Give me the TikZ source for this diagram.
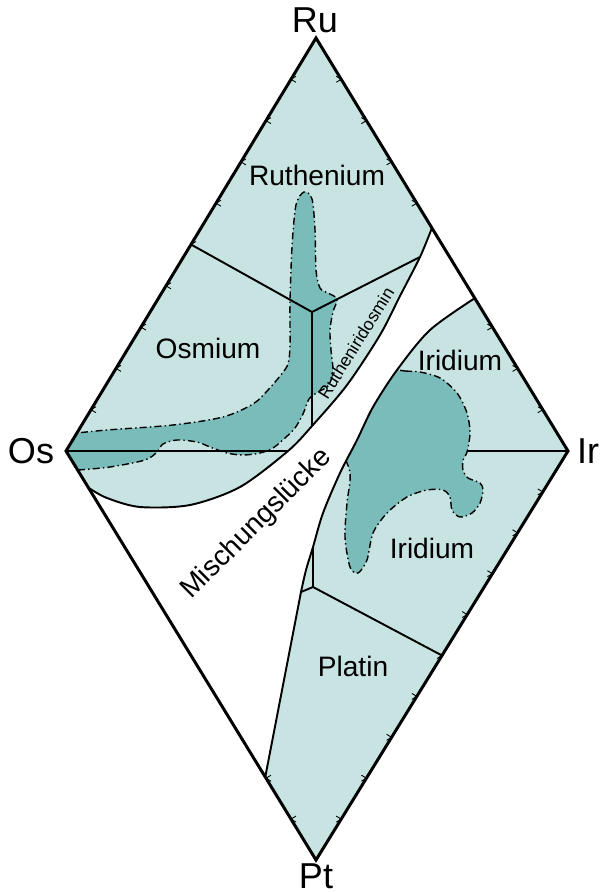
\documentclass[tikz,border=0pt]{standalone}
\usepackage{fontspec}
\setmainfont{Liberation Sans}
\usetikzlibrary{calc}
\definecolor{PhaseLight}{RGB}{200,228,226}
\definecolor{PhaseDark}{RGB}{122,188,186}

\begin{document}
\begin{tikzpicture}[x=0.02cm,y=-0.02cm,
      edge/.style={line width=1.7pt,line join=miter},
      bound/.style={line width=1.1pt},
      blob/.style={fill=PhaseDark,draw=black,line width=0.8pt,dash pattern=on 4pt off 1.8pt on 0.8pt off 1.8pt},
      tickmark/.style={line width=0.5pt},
      field/.style={font=\fontsize{16}{19}\selectfont,inner sep=0pt},
      corner/.style={font=\fontsize{20.5}{24}\selectfont,inner sep=0pt}]
    \useasboundingbox[fill=white] (0,0) rectangle (606,892);
    \coordinate (Ru) at (316,38);
    \coordinate (Os) at (66,451);
    \coordinate (Ir) at (568,451);
    \coordinate (Pt) at (316,860);
    \coordinate (gapTop) at ($(Ru)!0.46!(Ir)$);
    \coordinate (gapLeft) at ($(Os)!0.09!(Pt)$);
    \coordinate (irTop) at ($(Ru)!0.63!(Ir)$);
    \coordinate (ptLeft) at ($(Os)!0.797!(Pt)$);
    \coordinate (osruMid) at ($(Os)!0.5!(Ru)$);
    \coordinate (irptMid) at ($(Ir)!0.5!(Pt)$);
    \coordinate (triUp) at (312,312);
    \coordinate (triDown) at (313,587);
    \coordinate (arcA) at (420,257);
    \coordinate (arcB) at (312,426);
    \coordinate (arcC) at (288,451);
    \coordinate (arcD) at (313,547);
    \coordinate (arcE) at (301,592);
    \coordinate (irLine) at (467,451);

    \fill[PhaseLight] (Os) -- (Ru) -- (gapTop) -- plot[smooth] coordinates {(gapTop) (arcA) (400,296) (380,335) (347,385) (arcB) (arcC) (240,487) (190,505) (140,507) (107,498) (gapLeft)} -- cycle;
    \path[save path=\lowerfield] (Pt) -- (ptLeft) -- (arcE) -- plot[smooth] coordinates {(arcE) (306,570) (arcD) (323,513) (340,473) (357,440) (373,407) (397,370) (430,330) (irTop)} -- (Ir) -- cycle;
    \fill[PhaseLight,use path=\lowerfield];

    \draw[blob] plot[smooth] coordinates {(78,470) (110,467) (145,460) (157,452) (163,444) (177,440) (197,442) (210,447) (227,453) (243,455) (260,453) (273,448) (285,438) (295,428) (303,414) (309,399) (318,392) (328,386) (333,372) (331,350) (330,330) (333,312) (337,299) (328,293) (320,288) (316,270) (315,230) (312,199) (304,192) (296,205) (292,247) (290,303) (290,345) (288,364) (280,376) (268,390) (253,404) (223,417) (173,425) (107,430) (77,433)} -- (Os) -- cycle;
    \begin{scope}
      \clip[use path=\lowerfield];
      \draw[blob] plot[smooth cycle] coordinates {(380,368) (405,371) (420,372) (440,378) (457,393) (467,413) (470,433) (467,452) (463,460) (463,470) (468,478) (480,483) (483,490) (480,503) (472,513) (460,517) (452,510) (450,497) (443,490) (427,490) (407,497) (387,513) (373,533) (367,560) (358,573) (350,567) (345,537) (347,503) (350,473) (340,440) (352,405) (372,375)};
    \end{scope}

    \draw[bound] plot[smooth] coordinates {(gapTop) (arcA) (400,296) (380,335) (347,385) (arcB) (arcC) (240,487) (190,505) (140,507) (107,498) (gapLeft)};
    \draw[bound] (ptLeft) -- (arcE) -- plot[smooth] coordinates {(arcE) (306,570) (arcD) (323,513) (340,473) (357,440) (373,407) (397,370) (430,330) (irTop)};
    \draw[bound] (Os) -- (arcC);
    \draw[bound] (irLine) -- (Ir);
    \draw[bound] (osruMid) -- (triUp) -- (arcA);
    \draw[bound] (triUp) -- (arcB);
    \draw[bound] (arcD) -- (triDown) -- (irptMid);
    \draw[bound] (triDown) -- (arcE);

    \foreach \t in {0.1,0.2,...,0.9}
      \draw[tickmark] ($(Os)!\t!(Ru)$) ++(5,-3) -- ++(-5,3) -- ++(5,3);
    \foreach \t in {0.1,0.2,0.3,0.4,0.7,0.8,0.9}
      \draw[tickmark] ($(Ru)!\t!(Ir)$) ++(-5,-3) -- ++(5,3) -- ++(-5,3);
    \foreach \t in {0.1,0.2,...,0.9}
      \draw[tickmark] ($(Ir)!\t!(Pt)$) ++(-5,-3) -- ++(5,3) -- ++(-5,3);
    \foreach \t in {0.8,0.9}
      \draw[tickmark] ($(Os)!\t!(Pt)$) ++(5,-3) -- ++(-5,3) -- ++(5,3);

    \draw[edge] (Os) -- (Ru) -- (Ir) -- (Pt) -- cycle;

    \node[corner] (labelRu) at (315,20) {Ru};
    \node[corner] (labelOs) at (31,451) {Os};
    \node[corner] (labelIr) at (588,451) {Ir};
    \node[corner] (labelPt) at (316,876) {Pt};
    \node[field] (ruthenium) at (317,175) {Ruthenium};
    \node[field] (osmium) at (208,348) {Osmium};
    \node[field] (iridiumUp) at (460,360) {Iridium};
    \node[field] (iridiumLow) at (432,548) {Iridium};
    \node[field] (platin) at (353,666) {Platin};
    \node[field,rotate=45] (gap) at (257,524) {Mischungslücke};
    \node[font=\fontsize{10}{12}\selectfont,inner sep=0pt,rotate=58] (ruthenir) at (356,343) {Rutheniridosmin};
\end{tikzpicture}
\end{document}
